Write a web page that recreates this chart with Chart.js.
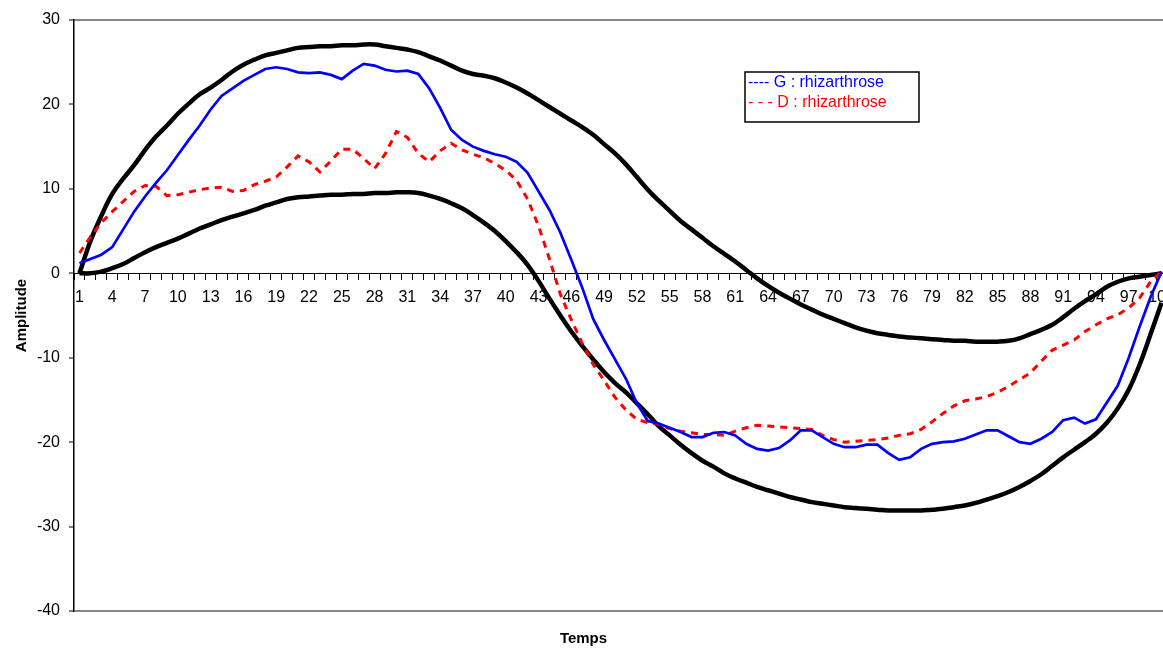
<!DOCTYPE html>
<html>
<head>
<meta charset="utf-8">
<script src="https://cdn.jsdelivr.net/npm/chart.js@4.4.1/dist/chart.umd.min.js"></script>
<style>
  html, body { margin: 0; padding: 0; background: #fff; overflow: hidden; }
  #wrap { position: relative; width: 1167px; height: 648px; }
</style>
</head>
<body>
<div id="wrap"><canvas id="myChart"></canvas></div>
<script>
// temps 1..100
var temps = [];
for (var t = 1; t <= 100; t++) temps.push(String(t));

var yTicks = [-40, -30, -20, -10, 0, 10, 20, 30];

// enveloppe haute
var enveloppeHaute = [
  0, 3.8, 6.8, 9.4, 11.2, 12.8, 14.6, 16.2, 17.5, 18.9,
  20.1, 21.2, 22.0, 22.9, 23.9, 24.7, 25.3, 25.8, 26.1, 26.4,
  26.7, 26.8, 26.9, 26.9, 27.0, 27.0, 27.1, 27.1, 26.9, 26.7,
  26.5, 26.2, 25.7, 25.2, 24.6, 24.0, 23.6, 23.4, 23.1, 22.6,
  22.0, 21.3, 20.5, 19.7, 18.9, 18.1, 17.3, 16.4, 15.3, 14.2,
  12.9, 11.4, 9.9, 8.6, 7.4, 6.2, 5.2, 4.2, 3.2, 2.3,
  1.4, 0.4, -0.6, -1.5, -2.3, -3.0, -3.7, -4.3, -4.9, -5.4,
  -5.9, -6.4, -6.8, -7.1, -7.3, -7.5, -7.6, -7.7, -7.8, -7.9,
  -8.0, -8.0, -8.1, -8.1, -8.1, -8.0, -7.7, -7.2, -6.7, -6.1,
  -5.2, -4.2, -3.3, -2.5, -1.6, -1.0, -0.6, -0.4, -0.2, 0
];

// enveloppe basse
var enveloppeBasse = [
  0, 0.0, 0.2, 0.6, 1.1, 1.8, 2.5, 3.1, 3.6, 4.1,
  4.7, 5.3, 5.8, 6.3, 6.7, 7.1, 7.5, 8.0, 8.4, 8.8,
  9.0, 9.1, 9.2, 9.3, 9.3, 9.4, 9.4, 9.5, 9.5, 9.6,
  9.6, 9.5, 9.2, 8.8, 8.3, 7.7, 6.9, 6.0, 5.0, 3.8,
  2.5, 1.0, -0.9, -3.0, -5.0, -6.9, -8.6, -10.2, -11.7, -13.0,
  -14.1, -15.4, -16.7, -18.1, -19.2, -20.3, -21.3, -22.2, -22.9, -23.7,
  -24.3, -24.8, -25.3, -25.7, -26.1, -26.5, -26.8, -27.1, -27.3, -27.5,
  -27.7, -27.8, -27.9, -28.0, -28.1, -28.1, -28.1, -28.1, -28.0, -27.9,
  -27.7, -27.5, -27.2, -26.8, -26.4, -25.9, -25.3, -24.6, -23.8, -22.8,
  -21.8, -20.9, -20.0, -19.0, -17.7, -16.0, -13.8, -10.8, -7.2, -3.5
];

// G : rhizarthrose
var gauche = [
  1.2, 1.7, 2.2, 3.1, 5.2, 7.3, 9.1, 10.7, 12.2, 14.0,
  15.8, 17.5, 19.4, 21.0, 21.9, 22.8, 23.5, 24.2, 24.4, 24.2,
  23.8, 23.7, 23.8, 23.5, 23.0, 24.0, 24.8, 24.6, 24.1, 23.9,
  24.0, 23.6, 21.9, 19.6, 17.0, 15.8, 15.0, 14.5, 14.1, 13.8,
  13.2, 11.9, 9.7, 7.5, 4.8, 1.6, -1.7, -5.4, -7.9, -10.2,
  -12.5, -15.4, -17.5, -17.8, -18.3, -18.8, -19.4, -19.4, -18.9, -18.8,
  -19.2, -20.2, -20.8, -21.0, -20.7, -19.8, -18.6, -18.6, -19.4, -20.2,
  -20.6, -20.6, -20.3, -20.3, -21.3, -22.1, -21.8, -20.8, -20.2, -20.0,
  -19.9, -19.6, -19.1, -18.6, -18.6, -19.3, -20.0, -20.2, -19.6, -18.8,
  -17.4, -17.1, -17.8, -17.3, -15.3, -13.3, -10.0, -6.3, -2.8, 0.2
];

// D : rhizarthrose
var droite = [
  2.4, 4.3, 6.0, 7.3, 8.5, 9.7, 10.4, 10.3, 9.2, 9.3,
  9.6, 9.9, 10.1, 10.2, 9.7, 9.8, 10.5, 10.9, 11.4, 12.6,
  13.9, 13.2, 12.0, 13.3, 14.7, 14.7, 13.6, 12.4, 14.2, 16.8,
  16.1, 14.2, 13.2, 14.5, 15.4, 14.6, 14.1, 13.7, 13.0, 12.2,
  11.0, 8.8, 5.6, 1.7, -2.5, -5.5, -8.3, -10.8, -12.7, -14.7,
  -16.2, -17.3, -17.7, -17.9, -18.4, -18.7, -18.9, -19.1, -19.1, -19.2,
  -18.7, -18.3, -18.0, -18.1, -18.2, -18.3, -18.4, -18.5, -19.2, -19.7,
  -20.0, -19.9, -19.8, -19.7, -19.5, -19.2, -19.0, -18.5, -17.6, -16.6,
  -15.7, -15.1, -14.9, -14.6, -14.1, -13.4, -12.6, -11.8, -10.4, -9.1,
  -8.5, -7.9, -6.9, -6.1, -5.4, -4.9, -4.1, -2.9, -1.0, 0.2
];

var police = "'Liberation Sans', Arial, sans-serif";

// legende dessinee dans le graphique (comme l'original)
var legendeBoite = {
  id: 'legendeBoite',
  afterDraw: function(chart) {
    var ctx = chart.ctx;
    ctx.save();
    ctx.fillStyle = '#fff';
    ctx.fillRect(745, 72, 174, 50);
    ctx.strokeStyle = '#000';
    ctx.lineWidth = 1.5;
    ctx.strokeRect(745, 72, 174, 50);
    ctx.font = '16px ' + police;
    ctx.textBaseline = 'middle';
    ctx.fillStyle = '#0000ff';
    ctx.fillText('---- G : rhizarthrose', 748, 83);
    ctx.fillStyle = '#ff0000';
    ctx.fillText('- - - D : rhizarthrose', 748, 103);
    ctx.restore();
  }
};

new Chart("myChart", {
  type: "line",
  data: {
    labels: temps,
    datasets: [{
      label: "G : rhizarthrose",
      data: gauche,
      borderColor: "#0000ff",
      borderWidth: 2.7,
      pointRadius: 0,
      tension: 0
    }, {
      label: "D : rhizarthrose",
      data: droite,
      borderColor: "#ff0000",
      borderWidth: 3,
      borderDash: [7, 6],
      pointRadius: 0,
      tension: 0
    }, {
      label: "haut",
      data: enveloppeHaute,
      borderColor: "#000",
      borderWidth: 4.5,
      pointRadius: 0,
      tension: 0.4
    }, {
      label: "bas",
      data: enveloppeBasse,
      borderColor: "#000",
      borderWidth: 4.5,
      pointRadius: 0,
      tension: 0.4
    }]
  },
  options: {
    responsive: true,
    maintainAspectRatio: false,
    animation: false,
    layout: { padding: { top: 20, left: 0, right: 0, bottom: 0 } },
    plugins: {
      legend: { display: false },
      tooltip: { enabled: false },
      title: {
        display: true,
        position: 'bottom',
        text: 'Temps',
        color: '#000',
        font: { family: police, size: 15, weight: 'bold' },
        padding: { top: 19, bottom: 0 }
      }
    },
    scales: {
      x: {
        type: 'category',
        position: { y: 0 },
        offset: true,
        grid: {
          drawOnChartArea: false,
          drawTicks: true,
          tickLength: 6,
          offset: true,
          color: '#000'
        },
        border: { color: '#000', width: 1 },
        ticks: {
          autoSkip: false,
          maxRotation: 0,
          padding: 9,
          color: '#000',
          font: { family: police, size: 16 },
          callback: function(val, i) {
            return (i % 3 === 0) ? this.getLabelForValue(val) : '';
          }
        },
        afterFit: function(scale) {
          scale.paddingLeft = 0;
          scale.paddingRight = 0;
        }
      },
      y: {
        min: -40,
        max: 30,
        afterBuildTicks: function(scale) {
          scale.ticks = yTicks.map(function(v) { return { value: v }; });
        },
        grid: {
          drawOnChartArea: true,
          drawTicks: true,
          tickLength: 5,
          lineWidth: 2,
          tickWidth: 1,
          tickColor: '#000',
          color: function(c) {
            if (c.tick && (c.tick.value === 30 || c.tick.value === -40)) return '#888';
            return 'rgba(0,0,0,0)';
          }
        },
        border: { color: '#000', width: 1.5 },
        ticks: {
          padding: 9,
          color: '#000',
          font: { family: police, size: 16 }
        },
        title: {
          display: true,
          text: 'Amplitude',
          color: '#000',
          font: { family: police, size: 15, weight: 'bold' },
          padding: { top: 13, bottom: 0 }
        },
        afterFit: function(scale) {
          scale.width = 74;
        }
      }
    }
  },
  plugins: [legendeBoite]
});
</script>
</body>
</html>
